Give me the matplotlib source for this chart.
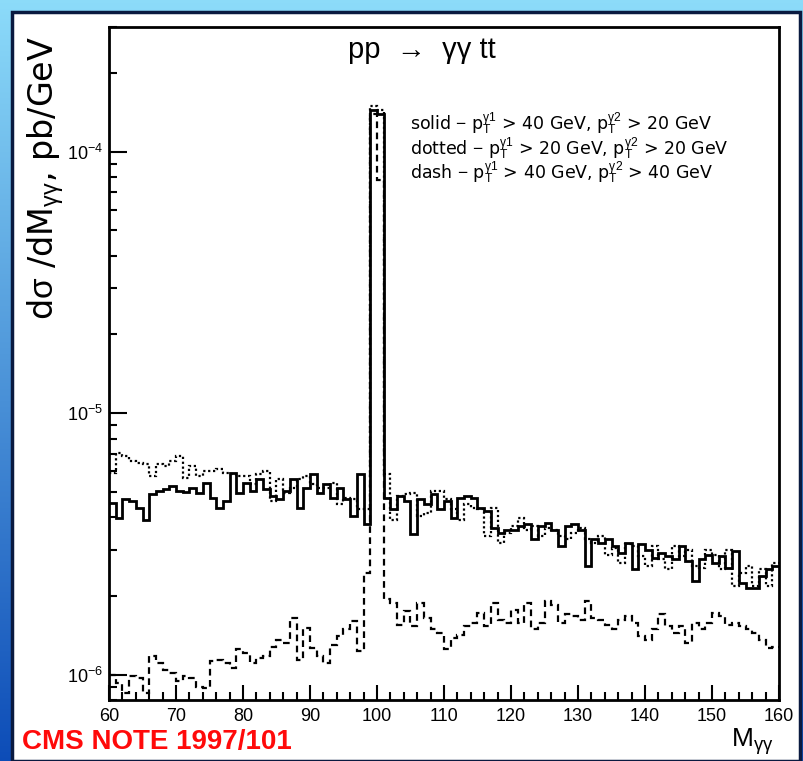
import numpy as np
import matplotlib
matplotlib.use('Agg')
import matplotlib.pyplot as plt
from matplotlib.patches import Rectangle
from matplotlib.ticker import FixedLocator, MultipleLocator, NullFormatter

# bin edges, 1 GeV bins from 60 to 160
edges = np.arange(60, 161, 1)

# d(sigma)/dM in units of 1e-6 pb/GeV
solid = [4.55, 3.98, 4.68, 4.61, 4.35, 3.92, 4.90, 5.04, 5.11, 5.27,
         5.04, 5.00, 5.19, 4.97, 5.43, 4.75, 4.35, 4.61, 5.92, 4.97,
         5.43, 5.04, 5.59, 5.11, 4.82, 4.68, 5.04, 5.59, 4.35, 5.19,
         5.84, 4.97, 5.35, 4.75, 5.19, 4.68, 4.04, 5.84, 3.76, 145.0,
         140.0, 4.75, 4.29, 4.82, 4.61, 3.44, 4.68, 4.48, 4.90, 4.29,
         4.61, 3.98, 4.75, 4.82, 4.75, 4.35, 4.22, 3.65, 3.49, 3.59,
         3.59, 3.70, 3.76, 3.29, 3.70, 3.81, 3.59, 3.10, 3.70, 3.76,
         3.59, 2.60, 3.29, 3.20, 3.29, 3.10, 2.92, 3.20, 2.53, 3.15,
         3.01, 2.80, 2.92, 2.84, 2.76, 3.10, 2.72, 2.28, 2.76, 2.88,
         2.68, 2.84, 2.56, 2.97, 2.24, 2.15, 2.15, 2.38, 2.53, 2.60]

dotted = [5.92, 7.07, 6.86, 6.57, 6.47, 6.38, 5.75, 6.38, 6.28, 6.57,
          6.86, 5.67, 6.28, 5.75, 6.01, 6.01, 6.10, 5.92, 5.84, 5.75,
          5.75, 5.35, 5.84, 6.01, 4.61, 5.59, 4.97, 5.19, 5.59, 5.75,
          5.35, 5.19, 5.19, 5.43, 4.48, 4.75, 4.68, 4.29, 4.30, 150.0,
          145.0, 5.84, 3.92, 4.82, 4.90, 4.97, 4.04, 4.16, 5.04, 5.04,
          4.68, 4.29, 3.92, 4.48, 4.35, 4.29, 3.39, 4.35, 3.20, 3.49,
          3.70, 3.98, 3.59, 3.70, 3.39, 3.65, 3.59, 3.39, 3.29, 3.49,
          3.65, 3.29, 3.20, 3.39, 2.88, 3.06, 2.68, 3.15, 3.10, 2.84,
          2.60, 3.10, 2.76, 2.53, 3.10, 2.84, 3.01, 2.60, 2.56, 3.01,
          2.88, 2.53, 3.01, 2.18, 2.45, 2.60, 2.18, 2.53, 2.18, 2.68]

dashed = [1.00, 0.93, 0.85, 0.985, 0.97, 0.85, 1.175, 1.11, 1.045, 1.015,
          0.943, 0.985, 0.97, 0.90, 0.89, 1.125, 1.14, 1.11, 1.06, 1.25,
          1.21, 1.11, 1.16, 1.175, 1.28, 1.36, 1.32, 1.65, 1.14, 1.51,
          1.26, 1.175, 1.11, 1.30, 1.40, 1.49, 1.60, 1.23, 2.45, 140.0,
          78.0, 1.94, 1.88, 1.55, 1.75, 1.53, 1.88, 1.65, 1.49, 1.44,
          1.25, 1.38, 1.42, 1.53, 1.58, 1.72, 1.53, 1.88, 1.62, 1.58,
          1.77, 1.58, 1.88, 1.49, 1.58, 1.91, 1.85, 1.58, 1.70, 1.67,
          1.62, 1.91, 1.65, 1.62, 1.55, 1.49, 1.62, 1.67, 1.58, 1.40,
          1.36, 1.49, 1.70, 1.53, 1.44, 1.53, 1.32, 1.58, 1.49, 1.58,
          1.72, 1.67, 1.55, 1.58, 1.53, 1.49, 1.44, 1.36, 1.26, 1.28]

legend_lines = [
    r'solid $-$ p$_T^{\gamma 1}$ > 40 GeV, p$_T^{\gamma 2}$ > 20 GeV',
    r'dotted $-$ p$_T^{\gamma 1}$ > 20 GeV, p$_T^{\gamma 2}$ > 20 GeV',
    r'dash $-$ p$_T^{\gamma 1}$ > 40 GeV, p$_T^{\gamma 2}$ > 40 GeV',
]

plt.rcParams['font.family'] = ['Liberation Sans', 'DejaVu Sans']
plt.rcParams['mathtext.fontset'] = 'custom'
plt.rcParams['mathtext.rm'] = 'Liberation Sans'
plt.rcParams['mathtext.it'] = 'Liberation Sans'

W, H = 804, 761
fig = plt.figure(figsize=(W / 100, H / 100), dpi=100)

# blue slide-style background
bg = fig.add_axes([0, 0, 1, 1], zorder=-10)
t = np.linspace(0, 1, 256)[:, None]
top = np.array([0.55, 0.86, 0.98])
bot = np.array([0.05, 0.30, 0.72])
grad = (1 - t)[..., None] * top + t[..., None] * bot
bg.imshow(np.repeat(grad, 4, axis=1), aspect='auto', extent=[0, 1, 0, 1])
bg.set_xlim(0, 1)
bg.set_ylim(0, 1)
bg.axis('off')
fig.patches.append(Rectangle((12 / W, 0), (800 - 12) / W, (H - 12) / H,
                             transform=fig.transFigure, facecolor='white',
                             edgecolor='#0a1a40', linewidth=2.5, zorder=-5))

ax = fig.add_axes([109 / W, 1 - 700 / H, (779 - 109) / W, (700 - 27) / H])
ax.set_facecolor('white')

scale = 1e-6
ax.stairs(np.array(dotted) * scale, edges, baseline=None, color='black',
          linewidth=1.6, linestyle=(0, (1, 1.2)))
ax.stairs(np.array(dashed) * scale, edges, baseline=None, color='black',
          linewidth=1.6, linestyle=(0, (3, 2)))
ax.stairs(np.array(solid) * scale, edges, baseline=None, color='black',
          linewidth=2.0)

ax.set_yscale('log')
ax.set_xlim(60, 160)
ax.set_ylim(8e-7, 3.0e-4)

ax.xaxis.set_major_locator(MultipleLocator(10))
ax.xaxis.set_minor_locator(MultipleLocator(2))
ax.yaxis.set_major_locator(FixedLocator([1e-6, 1e-5, 1e-4]))
ax.yaxis.set_minor_formatter(NullFormatter())
ax.set_yticklabels([r'10$^{-6}$', r'10$^{-5}$', r'10$^{-4}$'])

ax.tick_params(which='both', direction='in', top=False, right=False,
               width=1.5, labelsize=13, colors='black')
ax.tick_params(axis='x', which='major', length=11, pad=6)
ax.tick_params(axis='x', which='minor', length=6)
ax.tick_params(axis='y', which='major', length=13, pad=4)
ax.tick_params(axis='y', which='minor', length=6)
for sp in ax.spines.values():
    sp.set_linewidth(2.0)

fig.text(422 / W, 1 - 50 / H, 'pp  \u2192  \u03b3\u03b3 tt',
         ha='center', va='center', fontsize=21)
for i, line in enumerate(legend_lines):
    ax.text(0.449, 0.856 - i * 0.0365, line, transform=ax.transAxes,
            ha='left', va='center', fontsize=12.5,
            family=['DejaVu Sans'])

fig.text(46 / W, 1 - 178 / H, r'd$\sigma$ /dM$_{\gamma\gamma}$, pb/GeV',
         rotation=90, ha='center', va='center', fontsize=24,
         family=['DejaVu Sans'])
fig.text(752 / W, 1 - 742 / H, r'M$_{\gamma\gamma}$', ha='center',
         va='center', fontsize=19)
fig.text(22 / W, 1 - 742 / H, 'CMS NOTE 1997/101', color='#ff0a0a',
         fontsize=20, fontweight='bold', ha='left', va='center')

fig.savefig('out.png', dpi=100)
